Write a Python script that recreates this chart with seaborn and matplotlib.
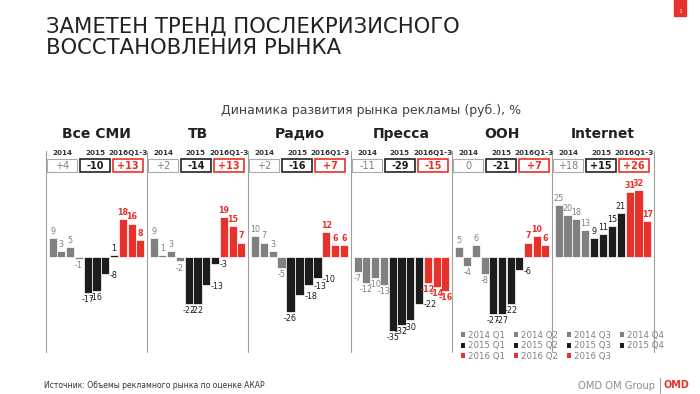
import numpy as np
import pandas as pd
import seaborn as sns
import matplotlib.pyplot as plt
from matplotlib.patches import Rectangle, Patch

# --- data -------------------------------------------------------------
media = ['Все СМИ', 'ТВ', 'Радио', 'Пресса', 'OOH', 'Internet']
quarters = ['2014 Q1', '2014 Q2', '2014 Q3', '2014 Q4',
            '2015 Q1', '2015 Q2', '2015 Q3', '2015 Q4',
            '2016 Q1', '2016 Q2', '2016 Q3']
quarter_years = ['2014'] * 4 + ['2015'] * 4 + ['2016'] * 3

vse_smi = [9, 3, 5, -1, -17, -16, -8, 1, 18, 16, 8]
tv = [9, 1, 3, -2, -22, -22, -13, -3, 19, 15, 7]
radio = [10, 7, 3, -5, -26, -18, -13, -10, 12, 6, 6]
pressa = [-7, -12, -10, -13, -35, -32, -30, -22, -12, -14, -16]
ooh = [5, -4, 6, -8, -27, -27, -22, -6, 7, 10, 6]
internet = [25, 20, 18, 13, 9, 11, 15, 21, 31, 32, 17]

year_labels = ['2014', '2015', '2016Q1-3']
total_2014 = [4, 2, 2, -11, 0, 18]
total_2015 = [-10, -14, -16, -29, -21, 15]
total_2016 = [13, 13, 7, -15, 7, 26]

series = [vse_smi, tv, radio, pressa, ooh, internet]

rows = []
for m, vals in zip(media, series):
    for q, y, v in zip(quarters, quarter_years, vals):
        rows.append({'medium': m, 'quarter': q, 'year': y, 'value': v})
df = pd.DataFrame(rows)

# labels drawn beside the bar end instead of below it (panel, bar index)
side_labels = {(0, 6), (1, 6), (1, 7), (2, 5), (2, 6), (2, 7), (3, 7), (4, 7)}

# --- style ------------------------------------------------------------
sns.set_style('white')
plt.rcParams['font.family'] = ['DejaVu Sans']

GRAY = '#808080'
BLACK = '#1c1c1c'
RED = '#e8312a'
year_colors = {'2014': GRAY, '2015': BLACK, '2016': RED}
quarter_palette = {q: year_colors[y] for q, y in zip(quarters, quarter_years)}

W, H = 700, 394
fig = plt.figure(figsize=(7, 3.94), dpi=100)

# overlay axis in pixel coordinates for slide decorations
bg = fig.add_axes([0, 0, 1, 1])
bg.set_xlim(0, W)
bg.set_ylim(H, 0)
bg.axis('off')

def fx(px):
    return px / W

def fy(py):
    return 1 - py / H

# title
bg.text(46, 33, 'ЗАМЕТЕН ТРЕНД ПОСЛЕКРИЗИСНОГО', fontsize=15.2, color='#222222', va='baseline')
bg.text(46, 54, 'ВОССТАНОВЛЕНИЯ РЫНКА', fontsize=15.2, color='#222222', va='baseline')

# page number
bg.add_patch(Rectangle((674, 0), 12, 16, color=RED))
bg.text(680, 11, '1', fontsize=4.5, color='white', ha='center', va='center')

bg.text(371, 110, 'Динамика развития рынка рекламы (руб.), %', fontsize=9, color='#404040',
        ha='center', va='center')

# panels
edges = [46, 147, 248, 351, 452, 552, 654]
for x in edges:
    bg.plot([x, x], [151, 352], color='#a0a0a0', lw=0.8)

y_top, y_bot = 180, 352
for i, m in enumerate(media):
    left, right = edges[i], edges[i + 1]
    ax = fig.add_axes([fx(left), fy(y_bot), fx(right - left), (y_bot - y_top) / H])
    sub = df[df.medium == m]
    sns.barplot(data=sub, x='quarter', y='value', hue='quarter', palette=quarter_palette,
                order=quarters, hue_order=quarters, width=0.92, legend=False, ax=ax,
                saturation=1, linewidth=0.5, edgecolor='white')
    ax.set_xlim(-0.75, 10.75)
    ax.set_ylim(-45, 36.7)
    ax.axis('off')
    for j, v in enumerate(series[i]):
        yr = quarter_years[j]
        c = year_colors[yr]
        fw = 'bold' if yr == '2016' else 'normal'
        if (i, j) in side_labels:
            ax.annotate(str(v), (j + 0.46, v), xytext=(0.5, -1), textcoords='offset points',
                        ha='left', va='center', fontsize=5.8, color=c, fontweight=fw)
            continue
        off = 1.5 if v >= 0 else -1.5
        ax.annotate(str(v), (j, v), xytext=(0, off), textcoords='offset points',
                    ha='center', va='bottom' if v >= 0 else 'top',
                    fontsize=5.8, color=c, fontweight=fw)

    cx = (left + right) / 2
    bg.text(cx, 134, m, fontsize=10, fontweight='bold', color='#222222',
            ha='center', va='center')

    totals = [total_2014[i], total_2015[i], total_2016[i]]
    box_x = [left + 1, left + 34, left + 67]
    styles = [(GRAY, '#aaaaaa', 'normal', 0.8), (BLACK, '#222222', 'bold', 1.2),
              (RED, RED, 'bold', 1.2)]
    for k in range(3):
        tc, ec, fw, lw = styles[k]
        bx = box_x[k]
        bg.add_patch(Rectangle((bx, 159), 30, 13, fill=False, edgecolor=ec, lw=lw))
        t = totals[k]
        s = '0' if t == 0 else ('%+d' % t)
        bg.text(bx + 15, 165.8, s, fontsize=7, color=tc, fontweight=fw,
                ha='center', va='center')
        bg.text(bx + 15, 153, year_labels[k], fontsize=5.2, fontweight='bold',
                color='#333333', ha='center', va='center')

# legend
order = [0, 4, 8, 1, 5, 9, 2, 6, 10, 3, 7]
handles = [Patch(facecolor=year_colors[quarter_years[k]], edgecolor='none', label=quarters[k])
           for k in order]
fig.legend(handles=handles, ncol=4, loc='upper left',
           bbox_to_anchor=(fx(461), fy(331)), frameon=False, fontsize=6.2,
           labelcolor=GRAY, handlelength=0.5, handleheight=0.5,
           handletextpad=0.3, columnspacing=1.05, labelspacing=0.15,
           borderpad=0, borderaxespad=0)

# footer
bg.text(44, 386, 'Источник: Объемы рекламного рынка по оценке АКАР', fontsize=5.5,
        color='#333333', va='center')
bg.text(655, 386, 'OMD OM Group', fontsize=7.2, color='#8c8c8c', ha='right', va='center')
bg.plot([660, 660], [378, 393], color='#a0a0a0', lw=0.8)
bg.text(676, 385, 'OMD', fontsize=7, fontweight='bold', color=RED, ha='center', va='center')

fig.savefig('out.png', dpi=100)
